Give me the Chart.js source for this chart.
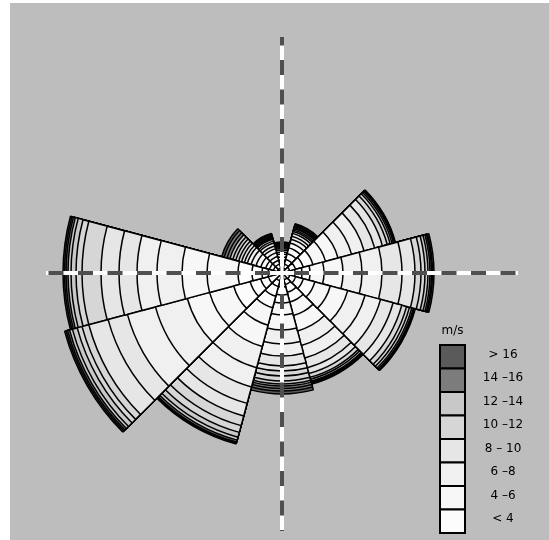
<!DOCTYPE html>
<html>
<head>
<meta charset="utf-8">
<script src="https://cdn.jsdelivr.net/npm/chart.js@4.4.0/dist/chart.umd.min.js"></script>
<style>
  html, body { margin: 0; padding: 0; background: #fff; }
  #rose { position: absolute; left: 10px; top: 3px; background: #bdbdbd; }
</style>
</head>
<body>
<canvas id="rose" width="539" height="537"></canvas>
<script>
// wind directions, degrees clockwise from north (30 degree sectors)
const directions = [0, 30, 60, 90, 120, 150, 180, 210, 240, 270, 300, 330];

// frequency per 1 m/s speed bin (0-1, 1-2, ... 15-16, >16) for each direction
const dir000 = [0.4, 0.3, 0.3, 0.3, 0.3, 0.3, 0.2, 0.2, 0.15, 0.1, 0.1, 0.1, 0.1, 0.1, 0.05, 0.05, 0.05];
const dir030 = [0.5, 0.4, 0.5, 0.6, 0.6, 0.5, 0.4, 0.3, 0.3, 0.2, 0.15, 0.15, 0.1, 0.1, 0.1, 0.1, 0.1];
const dir060 = [0.8, 0.6, 0.8, 1.0, 1.3, 1.3, 1.4, 1.3, 1.1, 0.8, 0.5, 0.3, 0.2, 0.15, 0.1, 0.05, 0.05];
const dir090 = [0.8, 0.5, 0.7, 0.8, 1.4, 1.9, 1.9, 2.0, 2.0, 1.3, 0.6, 0.4, 0.3, 0.2, 0.15, 0.1, 0.15];
const dir120 = [0.8, 0.6, 0.8, 1.2, 1.6, 1.8, 1.8, 1.6, 1.3, 0.9, 0.5, 0.3, 0.25, 0.15, 0.1, 0.05, 0.05];
const dir150 = [0.7, 0.5, 0.8, 1.0, 1.4, 1.6, 1.5, 1.3, 1.0, 0.6, 0.4, 0.2, 0.2, 0.1, 0.1, 0.05, 0.05];
const dir180 = [0.8, 0.6, 0.8, 0.8, 1.2, 1.5, 1.4, 1.2, 1.0, 0.5, 0.5, 0.5, 0.3, 0.2, 0.25, 0.25, 0.3];
const dir210 = [0.8, 0.6, 1.0, 1.2, 1.8, 2.2, 2.2, 2.0, 1.7, 1.3, 1.0, 0.7, 0.5, 0.3, 0.2, 0.1, 0.1];
const dir240 = [1.4, 0.8, 1.1, 1.7, 2.5, 2.3, 3.3, 2.9, 2.0, 2.0, 0.7, 0.5, 0.5, 0.3, 0.2, 0.15, 0.15];
const dir270 = [1.4, 0.6, 1.0, 1.4, 3.1, 2.5, 2.5, 2.0, 1.8, 1.8, 1.9, 0.6, 0.5, 0.3, 0.2, 0.15, 0.15];
const dir300 = [0.5, 0.4, 0.4, 0.4, 0.5, 0.5, 0.5, 0.4, 0.3, 0.3, 0.3, 0.3, 0.3, 0.3, 0.3, 0.3, 0.25];
const dir330 = [0.5, 0.4, 0.4, 0.4, 0.4, 0.4, 0.3, 0.3, 0.2, 0.2, 0.1, 0.1, 0.1, 0.1, 0.1, 0.05, 0.05];

// speed classes shown in the key (2 m/s wide) and which class each bin belongs to
const classLabels = ["< 4", "4 \u20136", "6 \u20138", "8 \u2013 10", "10 \u201312", "12 \u201314", "14 \u201316", "> 16"];
const classColors = ["#fcfcfc", "#f7f7f7", "#f0f0f0", "#e6e6e6", "#d6d6d6", "#c8c8c8", "#7c7c7c", "#5a5a5a"];
const binClass = [0, 0, 0, 0, 1, 1, 2, 2, 3, 3, 4, 4, 5, 5, 6, 6, 7];

const rows = [dir000, dir030, dir060, dir090, dir120, dir150, dir180, dir210, dir240, dir270, dir300, dir330];

// one dataset per bin holding the running total; dataset 0 is painted last,
// so the inner bands sit on top of the outer ones
const datasets = binClass.map((cls, j) => ({
  label: "bin " + j,
  data: rows.map(r => r.slice(0, j + 1).reduce((a, b) => a + b, 0)),
  backgroundColor: classColors[cls],
  borderColor: "#000",
  borderWidth: 1.5
}));

// dashed north-south / east-west cross through the centre
const crossLines = {
  id: "crossLines",
  afterDatasetsDraw(chart) {
    const r = chart.scales.r;
    const cx = r.xCenter, cy = r.yCenter, len = r.drawingArea;
    const ctx = chart.ctx;
    const arms = [[0, -1, len, 21], [0, 1, len + 22, 21], [-1, 0, len, 12], [1, 0, len, 12]];
    ctx.save();
    ctx.lineWidth = 4;
    ctx.lineCap = "butt";
    for (const [dx, dy, l, start] of arms) {
      ctx.beginPath();
      ctx.moveTo(cx, cy);
      ctx.lineTo(cx + dx * l, cy + dy * l);
      ctx.setLineDash([]);
      ctx.strokeStyle = "#fff";
      ctx.stroke();
      ctx.setLineDash([15, 14.5]);
      ctx.lineDashOffset = -start;
      ctx.strokeStyle = "#4f4f4f";
      ctx.stroke();
    }
    ctx.setLineDash([]);
    ctx.strokeStyle = "#fff";
    ctx.lineWidth = 3;
    ctx.beginPath();
    ctx.moveTo(cx - 9, cy); ctx.lineTo(cx + 9, cy);
    ctx.moveTo(cx, cy - 9); ctx.lineTo(cx, cy + 9);
    ctx.stroke();
    ctx.restore();
  }
};

// speed key in the lower right corner
const speedKey = {
  id: "speedKey",
  afterDraw(chart) {
    const ctx = chart.ctx;
    const x = 430, y = 342, w = 25, h = 23.5;
    ctx.save();
    ctx.fillStyle = "#000";
    ctx.font = "12px 'DejaVu Sans', sans-serif";
    ctx.textAlign = "center";
    ctx.textBaseline = "middle";
    ctx.fillText("m/s", x + w / 2, y - 14);
    for (let i = 0; i < classLabels.length; i++) {
      const k = classLabels.length - 1 - i;
      const top = y + i * h;
      ctx.fillStyle = classColors[k];
      ctx.fillRect(x, top, w, h);
      ctx.strokeStyle = "#000";
      ctx.lineWidth = 2;
      ctx.strokeRect(x, top, w, h);
      ctx.fillStyle = "#000";
      ctx.fillText(classLabels[k], 493, top + h / 2 - 2);
    }
    ctx.restore();
  }
};

new Chart(document.getElementById("rose").getContext("2d"), {
  type: "polarArea",
  data: {
    labels: directions.map(d => d + "\u00b0"),
    datasets: datasets
  },
  options: {
    responsive: false,
    animation: false,
    layout: { padding: { left: 36, right: 31, top: 34, bottom: 31 } },
    plugins: {
      legend: { display: false },
      tooltip: { enabled: false }
    },
    scales: {
      r: {
        display: false,
        min: 0,
        max: 23.6,
        startAngle: -15
      }
    }
  },
  plugins: [crossLines, speedKey]
});
</script>
</body>
</html>
